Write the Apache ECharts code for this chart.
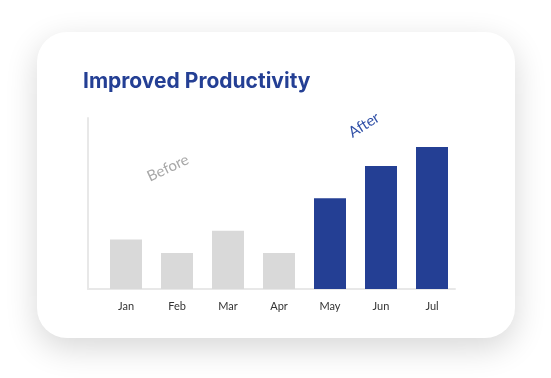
<!DOCTYPE html>
<html>
<head>
<meta charset="utf-8">
<script src="https://cdn.jsdelivr.net/npm/echarts@6/dist/echarts.min.js"></script>
<style>
  html, body { margin: 0; padding: 0; background: #ffffff; width: 551px; height: 378px; overflow: hidden; }
  #card { position: absolute; left: 37px; top: 32px; width: 478px; height: 306px; border-radius: 30px; background: #ffffff; box-shadow: 0 10px 32px rgba(0,0,0,0.16); }
  #chart { position: absolute; left: 0; top: 0; width: 551px; height: 378px; }
</style>
</head>
<body>
<div id="card"></div>
<div id="chart"></div>
<script>
const titleText = 'Improved Productivity';
const categories = ['Jan', 'Feb', 'Mar', 'Apr', 'May', 'Jun', 'Jul'];
const values = [29, 21, 34, 21, 53, 72, 83];
const phases = ['before', 'before', 'before', 'before', 'after', 'after', 'after'];
const beforeLabel = 'Before';
const afterLabel = 'After';

const BLUE = '#243f94';
const GREY = '#d9d9d9';

const chart = echarts.init(document.getElementById('chart'), null, { renderer: 'canvas' });
const option = {
  backgroundColor: 'transparent',
  animation: false,
  title: {
    text: titleText,
    left: 78, top: 66,
    textStyle: { fontFamily: 'Inter', fontWeight: 700, fontSize: 21, color: BLUE }
  },
  grid: [
    { left: 100.5, width: 357, top: 118, height: 171 },
    { left: 88, width: 367, top: 118, height: 171 }
  ],
  xAxis: [
    {
      type: 'category', gridIndex: 0, data: categories,
      axisLine: { show: false }, axisTick: { show: false },
      axisLabel: { color: '#333333', fontSize: 11, fontFamily: 'Lato', margin: 12 }
    },
    {
      type: 'value', gridIndex: 1, min: 0, max: 1,
      axisLine: { show: true, lineStyle: { color: '#e8e8e8', width: 2 } },
      axisTick: { show: false }, axisLabel: { show: false }, splitLine: { show: false }
    }
  ],
  yAxis: [
    { type: 'value', gridIndex: 0, min: 0, max: 100, show: false },
    {
      type: 'value', gridIndex: 1, min: 0, max: 1,
      axisLine: { show: true, lineStyle: { color: '#e8e8e8', width: 2 } },
      axisTick: { show: false }, axisLabel: { show: false }, splitLine: { show: false }
    }
  ],
  series: [{
    type: 'bar', xAxisIndex: 0, yAxisIndex: 0,
    barWidth: 32,
    data: values.map((v, i) => ({ value: v, itemStyle: { color: phases[i] === 'after' ? BLUE : GREY } }))
  }],
  graphic: [
    {
      type: 'text', x: 168, y: 168, rotation: 25 * Math.PI / 180,
      style: { text: beforeLabel, fill: '#a8a8a8', font: '400 15px Lato', textAlign: 'center', textVerticalAlign: 'middle' }
    },
    {
      type: 'text', x: 364, y: 125, rotation: 32 * Math.PI / 180,
      style: { text: afterLabel, fill: '#2f4fa6', font: '400 15px Lato', textAlign: 'center', textVerticalAlign: 'middle' }
    }
  ]
};
chart.setOption(option);
</script>
</body>
</html>
